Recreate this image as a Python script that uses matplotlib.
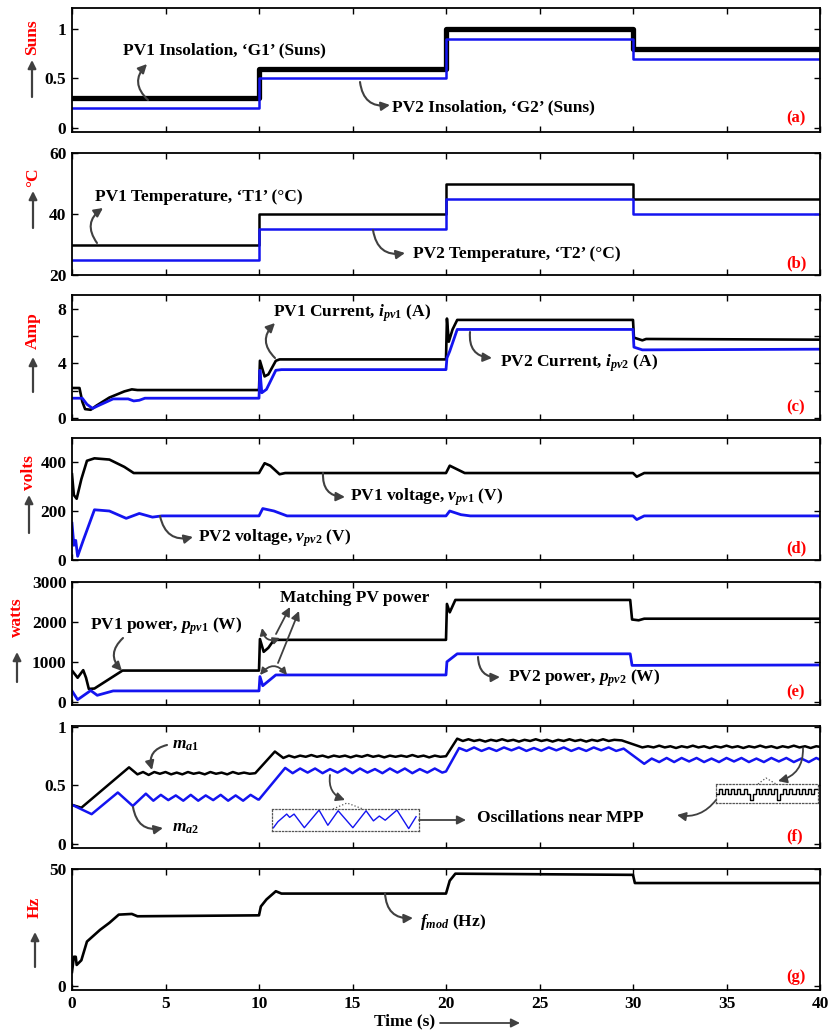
import matplotlib
matplotlib.use('Agg')
import matplotlib.pyplot as plt
from matplotlib.patches import FancyArrowPatch
from matplotlib.lines import Line2D

plt.rcParams.update({
    'font.family': ['Liberation Serif', 'DejaVu Serif'],
    'font.weight': 'bold',
    'font.size': 12.5,
    'mathtext.fontset': 'custom',
    'mathtext.rm': 'Liberation Serif:bold',
    'mathtext.it': 'Liberation Serif:italic:bold',
    'mathtext.bf': 'Liberation Serif:bold',
    'axes.linewidth': 1.3,
})

# ---------------- data ----------------
t_steps = [0, 10, 20, 30, 40]
G1 = [0.3, 0.6, 1.0, 0.8, 0.8]
G2 = [0.2, 0.5, 0.9, 0.7, 0.7]
T1 = [30, 40, 50, 45, 45]
T2 = [25, 35, 45, 40, 40]

ipv1_pts = [(0, 2.2), (0.4, 2.2), (0.55, 1.2), (0.7, 0.65), (1.0, 0.6), (1.3, 0.9), (2.0, 1.5),
            (2.8, 1.95), (3.2, 2.1), (3.5, 2.05), (10.0, 2.05), (10.05, 4.2), (10.3, 3.05), (10.5, 3.2),
            (10.9, 4.2), (11.1, 4.3), (20.0, 4.3), (20.05, 7.3), (20.15, 5.6), (20.35, 6.5), (20.6, 7.2),
            (30.0, 7.2), (30.05, 5.9), (30.5, 5.7), (30.7, 5.8), (40, 5.75)]
ipv2_pts = [(0, 1.45), (0.55, 1.45), (0.8, 1.0), (1.1, 0.7), (1.4, 0.9), (2.2, 1.4), (3.0, 1.4),
            (3.3, 1.25), (3.6, 1.3), (3.9, 1.45), (10.0, 1.45), (10.05, 3.5), (10.15, 1.85), (10.4, 2.1),
            (10.9, 3.5), (11.2, 3.55), (20.0, 3.55), (20.05, 4.4), (20.2, 4.9), (20.6, 6.5), (30.0, 6.5),
            (30.05, 5.2), (30.5, 5.0), (40, 5.05)]

vpv1_pts = [(0, 350), (0.1, 265), (0.25, 250), (0.5, 330), (0.8, 405), (1.2, 415), (2.0, 410), (2.8, 380),
            (3.3, 355), (10.0, 355), (10.3, 395), (10.6, 385), (11.1, 350), (11.4, 355), (20.0, 355),
            (20.2, 385), (20.6, 370), (21.0, 355), (30.0, 355), (30.2, 340), (30.6, 355), (40, 355)]
vpv2_pts = [(0, 150), (0.1, 60), (0.2, 80), (0.3, 15), (0.6, 80), (1.2, 205), (2.0, 200), (2.9, 170),
            (3.6, 190), (4.3, 175), (4.8, 180), (10.0, 180), (10.2, 210), (10.8, 200), (11.5, 180),
            (20.0, 180), (20.2, 200), (20.8, 185), (21.3, 180), (30.0, 180), (30.2, 165), (30.6, 180),
            (40, 180)]

ppv1_pts = [(0, 780), (0.3, 600), (0.6, 790), (0.75, 600), (0.9, 320), (1.2, 330), (2.7, 780), (10.0, 780),
            (10.05, 1570), (10.25, 1250), (10.5, 1350), (10.8, 1550), (20.0, 1550), (20.05, 2450),
            (20.2, 2240), (20.5, 2550), (29.85, 2550), (29.95, 2060), (30.3, 2040), (30.6, 2080), (40, 2080)]
ppv2_pts = [(0, 270), (0.3, 50), (1.0, 280), (1.35, 160), (2.2, 270), (10.0, 270), (10.05, 630),
            (10.2, 400), (10.9, 670), (20.0, 670), (20.05, 1000), (20.6, 1200), (29.85, 1200),
            (29.95, 910), (40, 920)]

ma1_pts = [(0, 0.335), (0.5, 0.31), (3.05, 0.655), (3.5, 0.595), (3.8, 0.615), (4.1, 0.59), (4.4, 0.615),
           (4.7, 0.60), (5.0, 0.615), (5.3, 0.595), (5.6, 0.61), (5.9, 0.595), (6.2, 0.615), (6.5, 0.60),
           (6.8, 0.61), (7.1, 0.595), (7.4, 0.615), (7.7, 0.60), (8.0, 0.61), (8.3, 0.595), (8.6, 0.615),
           (8.9, 0.60), (9.2, 0.61), (9.5, 0.60), (9.8, 0.605), (10.85, 0.79), (11.3, 0.735), (11.6, 0.755),
           (11.9, 0.74), (12.2, 0.755), (12.5, 0.745), (12.8, 0.76), (13.1, 0.745), (13.4, 0.755),
           (13.7, 0.74), (14.0, 0.755), (14.3, 0.745), (14.6, 0.755), (14.9, 0.74), (15.2, 0.755),
           (15.5, 0.745), (15.8, 0.76), (16.1, 0.745), (16.4, 0.755), (16.7, 0.74), (17.0, 0.755),
           (17.3, 0.745), (17.6, 0.755), (17.9, 0.745), (18.2, 0.76), (18.5, 0.745), (18.8, 0.755),
           (19.1, 0.74), (19.4, 0.755), (19.7, 0.745), (20.0, 0.75), (20.6, 0.90), (20.9, 0.88),
           (21.2, 0.895), (21.5, 0.88), (21.8, 0.89), (22.1, 0.875), (22.4, 0.89), (22.7, 0.88),
           (23.0, 0.895), (23.3, 0.88), (23.6, 0.89), (23.9, 0.875), (24.2, 0.89), (24.5, 0.88),
           (24.8, 0.895), (25.1, 0.88), (25.4, 0.89), (25.7, 0.875), (26.0, 0.89), (26.3, 0.88),
           (26.6, 0.895), (26.9, 0.88), (27.2, 0.89), (27.5, 0.875), (27.8, 0.89), (28.1, 0.88),
           (28.4, 0.895), (28.7, 0.88), (29.0, 0.89), (29.4, 0.885), (30.5, 0.825), (30.8, 0.835),
           (31.1, 0.825), (31.4, 0.84), (31.7, 0.825), (32.0, 0.835), (32.3, 0.82), (32.6, 0.835),
           (32.9, 0.825), (33.2, 0.84), (33.5, 0.825), (33.8, 0.835), (34.1, 0.82), (34.4, 0.835),
           (34.7, 0.825), (35.0, 0.84), (35.3, 0.825), (35.6, 0.835), (35.9, 0.82), (36.2, 0.835),
           (36.5, 0.825), (36.8, 0.84), (37.1, 0.825), (37.4, 0.835), (37.7, 0.82), (38.0, 0.835),
           (38.3, 0.825), (38.6, 0.84), (38.9, 0.825), (39.2, 0.835), (39.5, 0.82), (39.8, 0.835),
           (40.0, 0.83)]
ma2_pts = [(0, 0.335), (1.05, 0.255), (2.45, 0.44), (3.25, 0.325), (3.95, 0.43), (4.35, 0.37),
           (4.75, 0.42), (5.15, 0.375), (5.55, 0.415), (5.95, 0.37), (6.35, 0.42), (6.75, 0.37),
           (7.15, 0.415), (7.55, 0.375), (7.95, 0.42), (8.35, 0.37), (8.75, 0.415), (9.15, 0.37),
           (9.55, 0.42), (9.95, 0.38), (10.0, 0.38), (11.4, 0.65), (11.8, 0.605), (12.2, 0.645),
           (12.6, 0.61), (13.0, 0.645), (13.4, 0.605), (13.8, 0.64), (14.2, 0.61), (14.6, 0.645),
           (15.0, 0.605), (15.4, 0.645), (15.8, 0.61), (16.2, 0.64), (16.6, 0.605), (17.0, 0.645),
           (17.4, 0.61), (17.8, 0.645), (18.2, 0.605), (18.6, 0.64), (19.0, 0.61), (19.4, 0.645),
           (19.8, 0.61), (20.0, 0.62), (20.7, 0.82), (21.1, 0.795), (21.5, 0.825), (21.9, 0.795),
           (22.3, 0.82), (22.7, 0.795), (23.1, 0.825), (23.5, 0.80), (23.9, 0.825), (24.3, 0.795),
           (24.7, 0.82), (25.1, 0.795), (25.5, 0.825), (25.9, 0.80), (26.3, 0.825), (26.7, 0.795),
           (27.1, 0.82), (27.5, 0.795), (27.9, 0.825), (28.3, 0.80), (28.7, 0.825), (29.1, 0.795),
           (29.5, 0.815), (30.6, 0.685), (31.0, 0.73), (31.4, 0.70), (31.8, 0.735), (32.2, 0.70),
           (32.6, 0.735), (33.0, 0.705), (33.4, 0.735), (33.8, 0.70), (34.2, 0.73), (34.6, 0.70),
           (35.0, 0.735), (35.4, 0.705), (35.8, 0.735), (36.2, 0.70), (36.6, 0.73), (37.0, 0.70),
           (37.4, 0.735), (37.8, 0.705), (38.2, 0.735), (38.6, 0.70), (39.0, 0.73), (39.4, 0.70),
           (39.8, 0.735), (40.0, 0.72)]

fmod_pts = [(0, 6), (0.1, 12.5), (0.2, 12.5), (0.25, 9), (0.5, 11), (0.8, 19), (1.5, 24), (2.0, 27),
            (2.5, 30.5), (3.2, 30.8), (3.5, 29.8), (10.0, 30.2), (10.1, 34), (10.4, 37), (10.9, 40.5),
            (11.2, 39.5), (20.0, 39.5), (20.2, 45), (20.5, 48), (30.0, 47.5), (30.1, 44), (40, 44)]

# zoomed oscillation insets (normalised inset coordinates)
inset_blue_x = [0.01, 0.04, 0.10, 0.12, 0.15, 0.22, 0.32, 0.38, 0.45, 0.55, 0.64, 0.69, 0.73, 0.77,
                0.85, 0.93, 0.98]
inset_blue_y = [0.15, 0.42, 0.77, 0.62, 0.77, 0.15, 0.95, 0.26, 0.92, 0.15, 0.92, 0.46, 0.68, 0.49,
                0.95, 0.11, 0.65]
inset_black_x = [0.00, 0.03, 0.06, 0.09, 0.12, 0.15, 0.18, 0.21, 0.24, 0.27, 0.30, 0.33, 0.36, 0.39,
                 0.42, 0.45, 0.48, 0.51, 0.54, 0.57, 0.60, 0.63, 0.66, 0.69, 0.72, 0.75, 0.78, 0.81,
                 0.84, 0.87, 0.90, 0.93, 0.96, 1.00]
inset_black_y = [0.45, 0.75, 0.45, 0.75, 0.45, 0.75, 0.45, 0.75, 0.45, 0.75, 0.45, 0.15, 0.45, 0.75,
                 0.45, 0.75, 0.45, 0.75, 0.45, 0.75, 0.15, 0.45, 0.75, 0.45, 0.75, 0.45, 0.75, 0.45,
                 0.75, 0.45, 0.75, 0.45, 0.75, 0.75]

xticks = [0, 5, 10, 15, 20, 25, 30, 35, 40]

BLUE = '#1414f0'
GRAY = '#404040'
W, H = 829, 1034
AX_L, AX_R = 72, 820

fig = plt.figure(figsize=(W / 100, H / 100), dpi=100)


def unzip(pts):
    return [p[0] for p in pts], [p[1] for p in pts]


def mkax(top, bottom, ylim, yticks, ylabels, last=False):
    ax = fig.add_axes([AX_L / W, 1 - bottom / H, (AX_R - AX_L) / W, (bottom - top) / H])
    ax.set_xlim(0, 40)
    ax.set_ylim(*ylim)
    ax.set_xticks(xticks)
    ax.set_yticks(yticks)
    ax.set_yticklabels(ylabels)
    ax.tick_params(direction='in', top=True, right=True, length=4, width=1.0, labelsize=12.5, pad=4)
    if not last:
        ax.set_xticklabels([])
    return ax


def ftext(x, y, s, **kw):
    kw.setdefault('ha', 'left')
    kw.setdefault('va', 'center')
    kw.setdefault('fontsize', 12.5)
    fig.text(x / W, 1 - y / H, s, **kw)


def farrow(p0, p1, rad=0.0, style='-|>', lw=1.5, ms=13, ls='-'):
    a = FancyArrowPatch((p0[0] / W, 1 - p0[1] / H), (p1[0] / W, 1 - p1[1] / H),
                        transform=fig.transFigure, connectionstyle=f'arc3,rad={rad}',
                        arrowstyle=style, mutation_scale=ms, color=GRAY, lw=lw,
                        shrinkA=0, shrinkB=0, linestyle=ls)
    fig.add_artist(a)


def fline(xs, ys, **kw):
    fig.add_artist(Line2D([x / W for x in xs], [1 - y / H for y in ys], transform=fig.transFigure, **kw))


# (a)
ax = mkax(8, 132, (-0.04, 1.21), [0, 0.5, 1], ['0', '0.5', '1'])
ax.step(t_steps, G1, where='post', color='black', lw=3.8)
ax.step(t_steps, G2, where='post', color=BLUE, lw=1.8)

# (b)
ax = mkax(153, 275, (20, 60), [20, 40, 60], ['20', '40', '60'])
ax.step(t_steps, T1, where='post', color='black', lw=1.8)
ax.step(t_steps, T2, where='post', color=BLUE, lw=1.8)

# (c)
ax = mkax(295, 420, (-0.15, 9.03), [0, 2, 4, 6, 8], ['0', '', '4', '', '8'])
ax.plot(*unzip(ipv1_pts), color='black', lw=1.9)
ax.plot(*unzip(ipv2_pts), color=BLUE, lw=2.0)

# (d)
ax = mkax(438, 560, (0, 498), [0, 200, 400], ['0', '200', '400'])
ax.plot(*unzip(vpv1_pts), color='black', lw=1.9)
ax.plot(*unzip(vpv2_pts), color=BLUE, lw=2.0)

# (e)
ax = mkax(582, 705, (-83, 3000), [0, 1000, 2000, 3000], ['0', '1000', '2000', '3000'])
ax.plot(*unzip(ppv1_pts), color='black', lw=1.9)
ax.plot(*unzip(ppv2_pts), color=BLUE, lw=2.0)

# (f)
ax = mkax(726, 848, (-0.034, 1.008), [0, 0.5, 1], ['0', '0.5', '1'])
ax.plot(*unzip(ma1_pts), color='black', lw=1.8)
ax.plot(*unzip(ma2_pts), color=BLUE, lw=1.8)

# (g)
ax = mkax(869, 990, (-1.7, 50), [0, 50], ['0', '50'], last=True)
ax.plot(*unzip(fmod_pts), color='black', lw=1.9)

# insets in (f)
for (x0, y0, x1, y1), xs, ys, col, st in [((272, 809, 419, 831), inset_blue_x, inset_blue_y, BLUE, None),
                                          ((716, 784, 818, 803), inset_black_x, inset_black_y, 'black', 'post')]:
    ia = fig.add_axes([x0 / W, 1 - y1 / H, (x1 - x0) / W, (y1 - y0) / H])
    if st:
        ia.step(xs, ys, where=st, color=col, lw=1.0)
    else:
        ia.plot(xs, ys, color=col, lw=1.0)
    ia.set_xlim(0, 1)
    ia.set_ylim(0, 1)
    ia.set_xticks([])
    ia.set_yticks([])
    for sp in ia.spines.values():
        sp.set_linestyle(':')
        sp.set_linewidth(0.9)
        sp.set_color('#555555')

fline([333, 347, 363], [809, 803, 809], color='#555555', lw=0.9, ls=':')
fline([758, 766, 776], [784, 778, 784], color='#555555', lw=0.9, ls=':')

# y labels with arrows
for (x, y, s), (ya, yb) in [((32, 37, 'Suns'), (97, 60)), ((33, 177, '°C'), (228, 191)),
                            ((33, 331, 'Amp'), (392, 357)), ((29, 473, 'volts'), (533, 495)),
                            ((17, 617, 'watts'), (682, 652)), ((35, 907, 'Hz'), (967, 932))]:
    ftext(x, y, s, rotation=90, color='red', ha='center', fontsize=12.5)
    farrow((x, ya), (x, yb), lw=1.6, ms=12)

# panel labels
for s, y in [('(a)', 118), ('(b)', 263), ('(c)', 407), ('(d)', 548), ('(e)', 692), ('(f)', 836),
             ('(g)', 977)]:
    ftext(786, y, s, color='red', fontsize=12)

# annotations
ftext(123, 50, 'PV1 Insolation, ‘G1’ (Suns)')
farrow((148, 100), (147, 64), rad=-0.5)
ftext(392, 107, 'PV2 Insolation, ‘G2’ (Suns)')
farrow((360, 82), (390, 105), rad=0.5)

ftext(95, 197, 'PV1 Temperature, ‘T1’ (°C)')
farrow((97, 243), (103, 208), rad=-0.5)
ftext(413, 254, 'PV2 Temperature, ‘T2’ (°C)')
farrow((373, 230), (405, 253), rad=0.5)

ftext(273, 313, 'PV1 Current, $i_{pv1}$ (A)')
farrow((275, 358), (275, 323), rad=-0.5)
ftext(500, 363, 'PV2 Current, $i_{pv2}$ (A)')
farrow((470, 332), (492, 358), rad=0.5)

ftext(350, 497, 'PV1 voltage, $v_{pv1}$ (V)')
farrow((323, 473), (345, 497), rad=0.5)
ftext(198, 538, 'PV2 voltage, $v_{pv2}$ (V)')
farrow((160, 516), (193, 537), rad=0.5)

ftext(90, 626, 'PV1 power, $p_{pv1}$ (W)')
farrow((123, 638), (122, 671), rad=0.5)
ftext(280, 598, 'Matching PV power')
farrow((276, 634), (290, 607), lw=1.3)
farrow((278, 663), (299, 611), lw=1.3)
farrow((262, 628), (280, 638), rad=0.6, style='<|-|>', lw=1.3, ms=10)
farrow((260, 675), (287, 675), rad=-0.6, style='<|-|>', lw=1.3, ms=10)
ftext(508, 678, 'PV2 power, $p_{pv2}$ (W)')
farrow((478, 657), (500, 677), rad=0.5)

ftext(172, 745, '$m_{a1}$')
farrow((167, 745), (152, 770), rad=0.5)
ftext(172, 828, '$m_{a2}$')
farrow((133, 807), (163, 828), rad=0.5)
farrow((330, 775), (345, 800), rad=0.4, lw=1.3)
farrow((803, 748), (778, 781), rad=-0.4, lw=1.3)
ftext(477, 818, 'Oscillations near MPP')
farrow((419, 820), (466, 820), lw=1.3)
farrow((716, 800), (677, 815), rad=-0.3, lw=1.3)

ftext(420, 922, '$f_{mod}$ (Hz)')
farrow((385, 893), (413, 918), rad=0.5)

ftext(374, 1021, 'Time (s)')
farrow((440, 1023), (520, 1023), lw=1.3)

fig.savefig('out.png', dpi=100)
